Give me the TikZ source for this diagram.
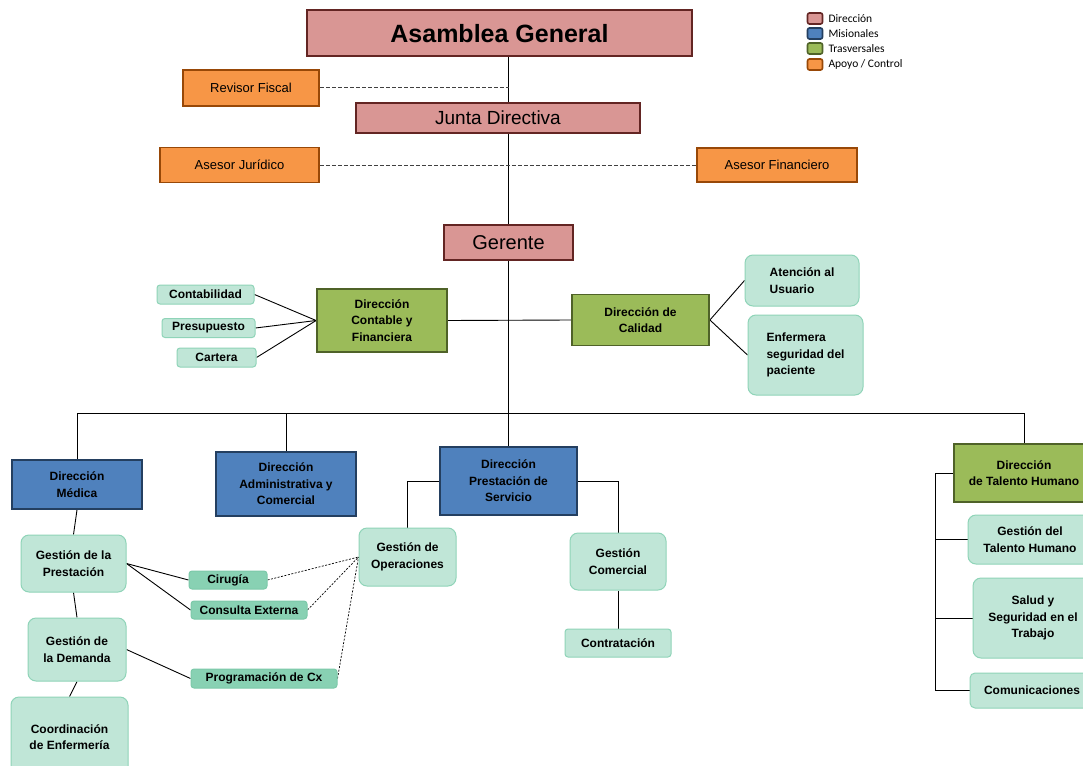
\documentclass[tikz,border=0pt]{standalone}
\usepackage{fontspec}
\setmainfont{Liberation Sans}
\newfontfamily\legfont{Carlito}
\usepackage{xcolor}
\usetikzlibrary{calc, positioning}

\definecolor{dirF}{HTML}{D99694}
\definecolor{dirD}{HTML}{632523}
\definecolor{misF}{HTML}{4F81BD}
\definecolor{misD}{HTML}{243F60}
\definecolor{traF}{HTML}{9BBB59}
\definecolor{traD}{HTML}{4F6228}
\definecolor{apoF}{HTML}{F79646}
\definecolor{apoD}{HTML}{984807}
\definecolor{subF}{HTML}{C0E6D7}
\definecolor{subD}{HTML}{8FD4B8}
\definecolor{tagF}{HTML}{88D1B3}
\definecolor{tagD}{HTML}{7CC9A9}

\pgfdeclarelayer{fondo}
\pgfsetlayers{fondo,main}

\tikzset{
    caja/.style={draw, align=center, inner sep=0pt, text=black},
    dirbox/.style={caja, fill=dirF, draw=dirD, line width=2pt},
    misbox/.style={caja, fill=misF, draw=misD, line width=1.8pt},
    trabox/.style={caja, fill=traF, draw=traD, line width=1.8pt},
    apobox/.style={caja, fill=apoF, draw=apoD, line width=1.5pt,
        font=\fontsize{13}{16}\selectfont},
    subbox/.style={caja, fill=subF, draw=subD, line width=1pt, rounded corners=8pt},
    tagbox/.style={caja, fill=tagF, draw=tagD, line width=1pt, rounded corners=3pt},
    legbox/.style={draw, line width=1.6pt, rounded corners=2pt,
        minimum width=15, minimum height=11, inner sep=0pt},
    legtxt/.style={inner sep=0pt, font=\legfont\fontsize{11.5}{13}\selectfont},
    enlace/.style={line width=0.9pt},
    control/.style={line width=1pt, black!75, dash pattern=on 4pt off 2pt},
    apoyo/.style={line width=0.7pt, dash pattern=on 2pt off 1.5pt}
}

\begin{document}
\begin{tikzpicture}[x=1pt, y=-1pt, >=latex,
    font=\fontsize{12}{16.5}\selectfont\bfseries]
    \clip (0,0) rectangle (1083,765);

    % 1. Direccion
    \node[dirbox, minimum width=385, minimum height=46,
        font=\fontsize{25}{28}\selectfont\bfseries] (asamblea) at (499.5,33.5) {Asamblea General};
    \node[dirbox, minimum width=284, minimum height=29,
        font=\fontsize{19}{22}\selectfont] (junta) at (498,118) {Junta Directiva};
    \node[dirbox, minimum width=129, minimum height=35,
        font=\fontsize{20}{23}\selectfont] (gerente) at (508.5,242.5) {Gerente};

    % 2. Apoyo / control
    \node[apobox, minimum width=136, minimum height=36] (revisor) at (251,88) {Revisor Fiscal};
    \node[apobox, minimum width=159, minimum height=35] (asjur) at (239.5,165) {Asesor Jurídico};
    \node[apobox, minimum width=160, minimum height=34] (asfin) at (777,165) {Asesor Financiero};

    % 3. Trasversales
    \node[trabox, minimum width=130, minimum height=63] (dircont) at (382,320.5) {Dirección\\Contable y\\Financiera};
    \node[trabox, minimum width=137, minimum height=51] (dircal) at (640.5,320) {Dirección de\\Calidad};
    \node[trabox, minimum width=140, minimum height=58] (dirtal) at (1024,473) {Dirección\\de Talento Humano};

    \node[subbox, rounded corners=3pt, minimum width=97, minimum height=19] (contab) at (205.5,294.5) {Contabilidad};
    \node[subbox, rounded corners=3pt, minimum width=93, minimum height=19] (presup) at (208.5,328) {Presupuesto};
    \node[subbox, rounded corners=3pt, minimum width=79, minimum height=19] (cartera) at (216.5,357.5) {Cartera};
    \node[subbox, minimum width=114, minimum height=51, align=left] (atencion) at (802,280.5) {Atención al\\Usuario};
    \node[subbox, minimum width=115, minimum height=80, align=left] (enferm) at (805.5,355) {Enfermera\\seguridad del\\paciente};

    % 4. Misionales
    \node[misbox, minimum width=130, minimum height=49] (dirmed) at (77,484.5) {Dirección\\Médica};
    \node[misbox, minimum width=140, minimum height=64] (diradm) at (286,484) {Dirección\\Administrativa y\\Comercial};
    \node[misbox, minimum width=137, minimum height=68] (dirpres) at (508.5,481) {Dirección\\Prestación de\\Servicio};

    \node[subbox, minimum width=105, minimum height=57] (gprest) at (73.5,563.5) {Gestión de la\\Prestación};
    \node[subbox, minimum width=98, minimum height=63] (gdem) at (77,649.5) {Gestión de\\la Demanda};
    \node[subbox, minimum width=117, minimum height=80] (gcoord) at (69.5,737) {Coordinación\\de Enfermería};
    \node[tagbox, minimum width=78, minimum height=18] (cirugia) at (228,580) {Cirugía};
    \node[tagbox, minimum width=116, minimum height=18] (consulta) at (249,610) {Consulta Externa};
    \node[tagbox, minimum width=146, minimum height=19] (prog) at (264,678.5) {Programación de Cx};
    \node[subbox, minimum width=97, minimum height=58] (gop) at (407.5,557) {Gestión de\\Operaciones};
    \node[subbox, minimum width=96, minimum height=57] (gcom) at (618,561.5) {Gestión\\Comercial};
    \node[subbox, rounded corners=3pt, minimum width=106, minimum height=28] (contrat) at (618,643) {Contratación};

    \node[subbox, minimum width=124, minimum height=49] (gth) at (1030,539.5) {Gestión del\\Talento Humano};
    \node[subbox, minimum width=120, minimum height=80] (salud) at (1033,618) {Salud y\\Seguridad en el\\Trabajo};
    \node[subbox, rounded corners=5pt, minimum width=124, minimum height=35] (comunic) at (1032,690.5) {Comunicaciones};

    % 5. Leyenda
    \node[legbox, fill=dirF, draw=dirD] (legdir) at (815,18.5) {};
    \node[legbox, fill=misF, draw=misD] (legmis) at (815,33.5) {};
    \node[legbox, fill=traF, draw=traD] (legtra) at (815,48.5) {};
    \node[legbox, fill=apoF, draw=apoD] (legapo) at (815,64.5) {};
    \node[legtxt, right=5pt of legdir] (legdirtxt) {Dirección};
    \node[legtxt, right=5pt of legmis] (legmistxt) {Misionales};
    \node[legtxt, right=5pt of legtra] (legtratxt) {Trasversales};
    \node[legtxt, right=5pt of legapo] (legapotxt) {Apoyo / Control};

    % 6. Conectores
    \coordinate (bus) at (0,413);
    \coordinate (thbus) at (935.5,0);
    \begin{pgfonlayer}{fondo}
        \fill[white] (0,0) rectangle (1083,765);
        \draw[enlace] (asamblea.south -| gerente) -- (dirpres.north);
        \draw[control] (revisor.east) -- (revisor.east -| gerente);
        \draw[control] (asjur.east) -- (asfin.west);
        \draw[enlace] (dircont.east) -- (dircal.west);
        \foreach \s in {contab, presup, cartera}
            \draw[enlace] (\s.east) -- (dircont.west);
        \draw[enlace] (dircal.east) -- (atencion.west);
        \draw[enlace] (dircal.east) -- (enferm.west);

        \draw[enlace] (dirmed.north) -- (dirmed.north |- bus) -- (dirtal.north |- bus) -- (dirtal.north);
        \draw[enlace] (diradm.north) -- (diradm.north |- bus);

        \draw[enlace] (dirmed.south) -- (gprest.north);
        \draw[enlace] (gprest.south) -- (gdem.north);
        \draw[enlace] (gdem.south) -- (gcoord.north);
        \draw[enlace] (gprest.east) -- (cirugia.west);
        \draw[enlace] (gprest.east) -- (consulta.west);
        \draw[enlace] (gdem.east) -- (prog.west);
        \foreach \s in {cirugia, consulta, prog}
            \draw[apoyo] (\s.east) -- (gop.west);

        \draw[enlace] (dirpres.west) -| (gop.north);
        \draw[enlace] (dirpres.east) -| (gcom.north);
        \draw[enlace] (gcom.south) -- (contrat.north);

        \draw[enlace] (dirtal.west) -- (dirtal.west -| thbus) |- (comunic.west);
        \draw[enlace] (gth.west -| thbus) -- (gth.west);
        \draw[enlace] (salud.west -| thbus) -- (salud.west);
    \end{pgfonlayer}
\end{tikzpicture}
\end{document}
